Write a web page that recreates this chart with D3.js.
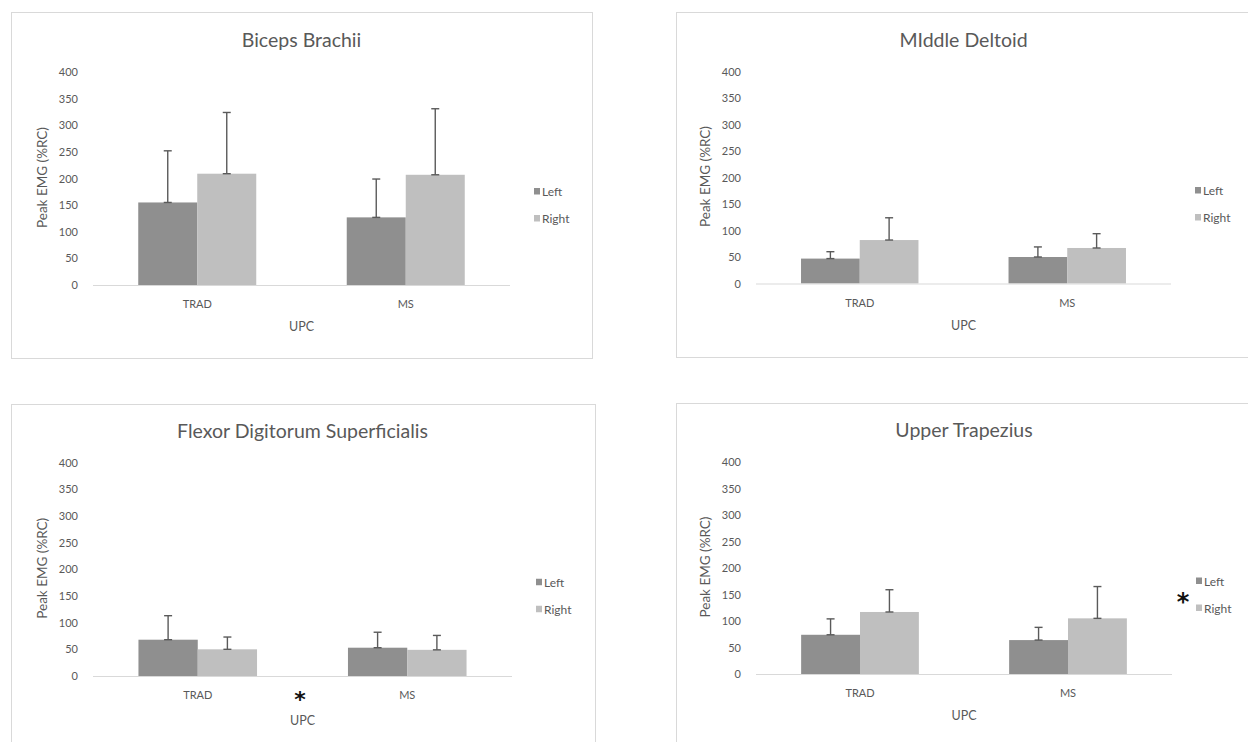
<!DOCTYPE html>
<html>
<head>
<meta charset="utf-8">
<script src="https://cdn.jsdelivr.net/npm/d3@7"></script>
<style>
  body { margin: 0; background: #fff; }
  text { font-family: Lato, "Open Sans", sans-serif; fill: #595959; }
</style>
</head>
<body>
<svg id="chart" width="1248" height="742"></svg>
<script>
// data
const categories = ['TRAD', 'MS'];
const series = ['Left', 'Right'];
const yTicks = [0, 50, 100, 150, 200, 250, 300, 350, 400];

const bicepsMean = [[155, 209], [127, 207]];
const bicepsSD   = [[97, 115], [72, 124]];
const deltoidMean = [[47, 82], [50, 67]];
const deltoidSD   = [[13, 42], [19, 27]];
const fdsMean = [[68, 50], [53, 49]];
const fdsSD   = [[45, 23], [29, 27]];
const trapMean = [[74, 117], [64, 105]];
const trapSD   = [[30, 42], [24, 60]];

const colors = { Left: '#8f8f8f', Right: '#bfbfbf' };

const panels = [
    { title: 'Biceps Brachii', mean: bicepsMean, sd: bicepsSD,
      box: [11, 12, 581, 346], left: 93, top: 72, bottom: 285, width: 417 },
    { title: 'MIddle Deltoid', mean: deltoidMean, sd: deltoidSD,
      box: [676, 12, 580, 345], left: 756, top: 71.5, bottom: 283.5, width: 415 },
    { title: 'Flexor Digitorum Superficialis', mean: fdsMean, sd: fdsSD,
      box: [11, 404, 584, 345], left: 93, top: 462.5, bottom: 676, width: 419,
      star: [300, 707, 22], upcDy: 3 },
    { title: 'Upper Trapezius', mean: trapMean, sd: trapSD,
      box: [676, 403, 580, 345], left: 756, top: 462, bottom: 674, width: 416,
      star: [1183, 610, 24] }
];

const svg = d3.select('#chart');
svg.append('rect').attr('width', 1248).attr('height', 742).attr('fill', '#fff');

panels.forEach(p => drawPanel(p));

function drawPanel(p) {
    const g = svg.append('g');

    g.append('rect')
        .attr('x', p.box[0] + 0.5).attr('y', p.box[1] + 0.5)
        .attr('width', p.box[2]).attr('height', p.box[3])
        .attr('fill', '#fff').attr('stroke', '#d9d9d9');

    const h = p.bottom - p.top;
    const chart = g.append('g')
        .attr('transform', `translate(${p.left}, ${p.top})`);

    const x0 = d3.scaleBand().domain(categories).range([0, p.width])
        .paddingInner(0.434).paddingOuter(0.217);
    const x1 = d3.scaleBand().domain(series).range([0, x0.bandwidth()]);
    const y = d3.scaleLinear().domain([0, 400]).range([h, 0]);

    // y axis: labels only
    const yAxis = chart.append('g')
        .call(d3.axisLeft(y).tickValues(yTicks).tickSize(0).tickPadding(15));
    yAxis.select('.domain').remove();
    yAxis.selectAll('text').style('font-size', '11px')
        .style('font-family', 'Lato, sans-serif').attr('fill', '#595959');

    // bars
    const rows = [];
    categories.forEach((c, i) => series.forEach((s, j) => {
        rows.push({ cat: c, ser: s, v: p.mean[i][j], sd: p.sd[i][j] });
    }));

    chart.selectAll('.bar')
        .data(rows)
        .join('rect')
        .attr('class', 'bar')
        .attr('x', d => x0(d.cat) + x1(d.ser))
        .attr('y', d => y(d.v))
        .attr('width', x1.bandwidth())
        .attr('height', d => h - y(d.v))
        .attr('fill', d => colors[d.ser]);

    // baseline
    chart.append('line')
        .attr('x1', 0).attr('x2', p.width)
        .attr('y1', h + 0.5).attr('y2', h + 0.5)
        .attr('stroke', '#d9d9d9').attr('stroke-width', 1.2);

    // error bars (upper only, with caps)
    const cx = d => x0(d.cat) + x1(d.ser) + x1.bandwidth() / 2;
    const err = chart.selectAll('.err').data(rows).join('g').attr('class', 'err')
        .attr('stroke', '#5a5a5a').attr('stroke-width', 1.4);
    err.append('line')
        .attr('x1', cx).attr('x2', cx)
        .attr('y1', d => y(d.v)).attr('y2', d => y(d.v + d.sd));
    err.append('line')
        .attr('x1', d => cx(d) - 4).attr('x2', d => cx(d) + 4)
        .attr('y1', d => y(d.v + d.sd)).attr('y2', d => y(d.v + d.sd));
    err.append('line')
        .attr('x1', d => cx(d) - 4).attr('x2', d => cx(d) + 4)
        .attr('y1', d => y(d.v)).attr('y2', d => y(d.v));

    // category labels
    chart.selectAll('.cat').data(categories).join('text')
        .attr('class', 'cat')
        .attr('x', d => x0(d) + x0.bandwidth() / 2)
        .attr('y', h + 23)
        .attr('text-anchor', 'middle')
        .style('font-size', '11px')
        .text(d => d);

    // axis titles
    chart.append('text')
        .attr('x', p.width / 2).attr('y', h + 46 + (p.upcDy || 0))
        .attr('text-anchor', 'middle')
        .style('font-size', '12.5px')
        .text('UPC');

    chart.append('text')
        .attr('transform', `translate(-46, ${h / 2 - 1}) rotate(-90)`)
        .attr('text-anchor', 'middle')
        .style('font-size', '13.5px')
        .text('Peak EMG (%RC)');

    // title
    g.append('text')
        .attr('x', p.left + p.width / 2)
        .attr('y', p.top - 25)
        .attr('text-anchor', 'middle')
        .style('font-size', '19.5px')
        .text(p.title);

    // legend
    const lg = g.append('g')
        .attr('transform', `translate(${p.left + p.width + 24}, ${p.top + h / 2 + 14})`);
    series.forEach((s, i) => {
        lg.append('rect')
            .attr('x', 0).attr('y', i * 27 - 4.5)
            .attr('width', 6).attr('height', 6.5)
            .attr('fill', colors[s]);
        lg.append('text')
            .attr('x', 8).attr('y', i * 27 + 3.5)
            .style('font-size', '12px')
            .text(s);
    });

    if (p.star) {
        g.append('text')
            .attr('x', p.star[0]).attr('y', p.star[1])
            .attr('text-anchor', 'middle')
            .style('font-family', '"DejaVu Sans", sans-serif')
            .style('font-size', p.star[2] + 'px')
            .style('font-weight', 'bold')
            .style('fill', '#111')
            .text('*');
    }
}
</script>
</body>
</html>
